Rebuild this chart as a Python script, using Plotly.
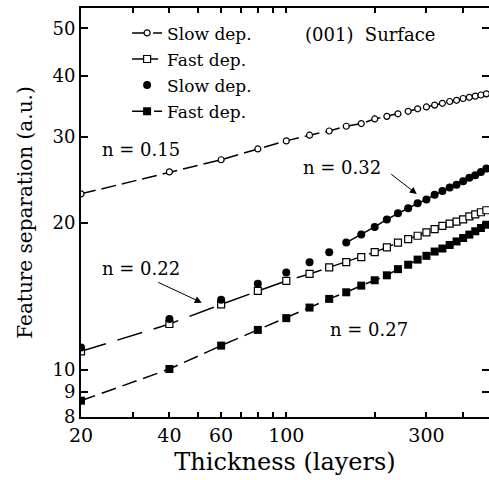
import math
import plotly.graph_objects as go

# ---- data ----
thickness = [20, 40, 60, 80, 100, 120, 140, 160, 180, 200, 220, 240,
             260, 280, 300, 320, 340, 360, 380, 400, 420, 440, 460, 480]
slow_open = [22.9, 25.4, 26.9, 28.3, 29.4, 30.2, 30.8, 31.5, 31.9, 32.6, 33.0, 33.4,
             33.8, 34.2, 34.5, 34.8, 35.1, 35.4, 35.6, 35.9, 36.1, 36.3, 36.5, 36.7]
fast_open = [10.9, 12.4, 13.6, 14.5, 15.2, 15.7, 16.2, 16.6, 17.0, 17.4, 17.8, 18.2,
             18.5, 18.8, 19.1, 19.4, 19.7, 19.9, 20.1, 20.3, 20.6, 20.8, 21.0, 21.2]
slow_filled = [11.1, 12.7, 13.9, 15.0, 15.8, 16.6, 17.4, 18.2, 18.9, 19.6, 20.3, 20.9,
               21.4, 21.9, 22.3, 22.8, 23.2, 23.6, 23.9, 24.3, 24.7, 25.0, 25.4, 25.8]
fast_filled = [8.64, 10.03, 11.2, 12.06, 12.75, 13.4, 13.96, 14.4, 14.86, 15.24, 15.6, 16.06,
               16.4, 16.8, 17.1, 17.45, 17.7, 18.0, 18.3, 18.6, 18.9, 19.2, 19.5, 19.8]
fit_from = 160  # the n = 0.32 line through the filled circles starts here

x_ticks = [20, 40, 60, 100, 300]
x_minor = [30, 50, 70, 80, 90, 200, 400]
y_ticks = [8, 9, 10, 20, 30, 40, 50]
x_range = [20, 490]
y_range = [8, 55]

FONT = "DejaVu Serif"
fig = go.Figure()

fig.add_trace(go.Scatter(
    x=thickness, y=slow_open, mode="lines+markers", name="Slow dep.",
    line=dict(color="black", width=1.5, dash="15px,6px"),
    marker=dict(symbol="circle", size=6, color="white", line=dict(color="black", width=1.2)),
    legendgroup="a"))
fig.add_trace(go.Scatter(
    x=thickness, y=fast_open, mode="lines+markers", name="Fast dep.",
    line=dict(color="black", width=1.5, dash="26px,12px"),
    marker=dict(symbol="square", size=7, color="white", line=dict(color="black", width=1.2)),
    legendgroup="b"))
fig.add_trace(go.Scatter(
    x=thickness, y=slow_filled, mode="markers", name="Slow dep.",
    marker=dict(symbol="circle", size=8, color="black"),
    legendgroup="c"))
fig.add_trace(go.Scatter(
    x=thickness, y=fast_filled, mode="lines+markers", name="Fast dep.",
    line=dict(color="black", width=1.5, dash="15px,7px"),
    marker=dict(symbol="square", size=8, color="black"),
    legendgroup="d"))
fit_x = [t for t in thickness if t >= fit_from]
fit_y = [v for t, v in zip(thickness, slow_filled) if t >= fit_from]
fig.add_trace(go.Scatter(
    x=fit_x, y=fit_y, mode="lines", showlegend=False,
    line=dict(color="black", width=1.5), hoverinfo="skip"))
# dummy trace for the right-hand tick axis
fig.add_trace(go.Scatter(x=[x_range[0]], y=[y_range[0]], yaxis="y2", mode="markers",
                         marker=dict(opacity=0), showlegend=False, hoverinfo="skip"))

axis_common = dict(type="log", showgrid=False, zeroline=False, color="black",
                   ticks="inside", tickcolor="black", tickwidth=1.5,
                   linecolor="black", linewidth=2, showline=True)

fig.update_layout(
    width=489, height=480,
    margin=dict(l=81, r=0, t=8, b=63),
    paper_bgcolor="white", plot_bgcolor="white",
    font=dict(family=FONT, color="black"),
    xaxis=dict(**axis_common, range=[math.log10(x_range[0]), math.log10(x_range[1])],
               tickvals=x_ticks, ticktext=[str(v) for v in x_ticks], ticklen=5,
               tickfont=dict(family=FONT, size=19, color="black"),
               mirror="ticks",
               minor=dict(tickvals=x_minor, ticks="inside", ticklen=5,
                          tickcolor="black", tickwidth=1.5, showgrid=False),
               title=dict(text="Thickness (layers)",
                          font=dict(family=FONT, size=24, color="black"), standoff=8)),
    yaxis=dict(**axis_common, range=[math.log10(y_range[0]), math.log10(y_range[1])],
               tickvals=y_ticks, ticktext=[str(v) for v in y_ticks], ticklen=7,
               tickfont=dict(family=FONT, size=18, color="black"),
               mirror=False,
               title=dict(text="Feature separation (a.u.)",
                          font=dict(family=FONT, size=20, color="black"), standoff=14)),
    yaxis2=dict(type="log", overlaying="y", side="right", anchor="x",
                range=[math.log10(y_range[0]), math.log10(y_range[1])],
                tickvals=y_ticks, showticklabels=False, ticks="inside", ticklen=7,
                tickcolor="black", tickwidth=1.5, showline=False, showgrid=False, zeroline=False),
    legend=dict(x=0.113, y=0.982, xanchor="left", yanchor="top",
                bgcolor="rgba(0,0,0,0)", tracegroupgap=1,
                font=dict(family=FONT, size=17, color="black")),
    showlegend=True,
)

# longer decade tick at 100 (bottom and top)
for anchor in (0, 1):
    fig.add_shape(type="line", xref="x", yref="paper", x0=math.log10(100), x1=math.log10(100),
                  ysizemode="pixel", yanchor=anchor, y0=0 if anchor == 0 else -9,
                  y1=9 if anchor == 0 else 0, line=dict(color="black", width=1.5))

ann_font = dict(family=FONT, size=18, color="black")
texts = [("(001)  Surface", 0.71, 0.936), ("n = 0.15", 0.148, 0.653),
         ("n = 0.22", 0.147, 0.364), ("n = 0.32", 0.640, 0.611), ("n = 0.27", 0.705, 0.213)]
for t, xp, yp in texts:
    fig.add_annotation(text=t, x=xp, y=yp, xref="paper", yref="paper",
                       showarrow=False, font=ann_font, xanchor="center", yanchor="middle")
for hx, hy, ax, ay in [(0.296, 0.2795, -45, -21), (0.823, 0.545, -27, -21)]:
    fig.add_annotation(text="", x=hx, y=hy, xref="paper", yref="paper",
                       ax=ax, ay=ay, showarrow=True, arrowhead=2, arrowsize=1.4,
                       arrowwidth=1, arrowcolor="black", standoff=0)

fig.write_html("out.html", config={"displayModeBar": False},
               post_script="document.body.style.margin='0px';")
